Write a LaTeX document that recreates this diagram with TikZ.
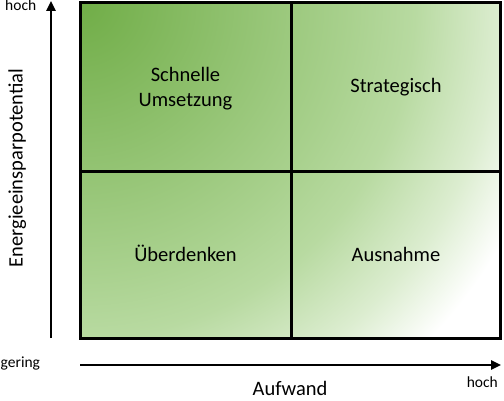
\documentclass[tikz,border=0pt]{standalone}
\usepackage{fontspec}
\setmainfont{Carlito}
\usetikzlibrary{arrows.meta}
\definecolor{qgreenA}{HTML}{70AD47}
\definecolor{qgreenB}{HTML}{A9D18E}
\definecolor{qgreenC}{HTML}{B8DAA1}
\definecolor{qgreenD}{HTML}{DCEDD0}
\pgfdeclareradialshading{quadshade}{\pgfpoint{0pt}{0pt}}{color(0pt)=(qgreenA); color(270pt)=(qgreenB); color(335pt)=(qgreenC); color(420pt)=(qgreenD); color(485pt)=(white); color(560pt)=(white)}
\begin{document}
\begin{tikzpicture}[x=1pt,y=1pt,
  axisarrow/.style={line width=2.4pt, -{Triangle[length=10pt,width=9pt]}},
  frame/.style={line width=3pt},
  qlabel/.style={font=\fontsize{20.5}{24.5}\selectfont, align=center, inner sep=0pt},
  biglabel/.style={font=\fontsize{20.5}{24.5}\selectfont, inner sep=0pt},
  smalllabel/.style={font=\fontsize{15.5}{18}\selectfont, inner sep=0pt}]
\useasboundingbox (0,0) rectangle (504,400);
\begin{scope}
\clip (80,62) rectangle (500,397);
\pgftext[at=\pgfpoint{80pt}{397pt}]{\pgfuseshading{quadshade}}
\end{scope}
\draw[frame] (80,62) rectangle (500,397);
\draw[frame] (291,62) -- (291,397);
\draw[frame] (80,229) -- (500,229);
\coordinate (ybot) at (51,62);
\coordinate (ytop) at (51,399);
\coordinate (xl) at (80,35);
\coordinate (xr) at (501,35);
\draw[axisarrow] (ybot) -- (ytop);
\draw[axisarrow] (xl) -- (xr);
\node[qlabel] (schnell) at (185.5,311.5) {Schnelle\\Umsetzung};
\node[qlabel, anchor=base] (strat) at (396,307) {Strategisch};
\node[qlabel, anchor=base] (ueber) at (185.5,139) {Überdenken};
\node[qlabel, anchor=base] (ausn) at (396,139) {Ausnahme};
\node[smalllabel, anchor=base west] (hochy) at (5,389) {hoch};
\node[smalllabel, anchor=base west] (gering) at (0.5,33) {gering};
\node[smalllabel, anchor=base east] (hochx) at (498,13) {hoch};
\node[biglabel, anchor=base] (aufwand) at (290,4.5) {Aufwand};
\node[biglabel, anchor=base, rotate=90] (energie) at (22.5,232) {Energieeinsparpotential};
\end{tikzpicture}
\end{document}
